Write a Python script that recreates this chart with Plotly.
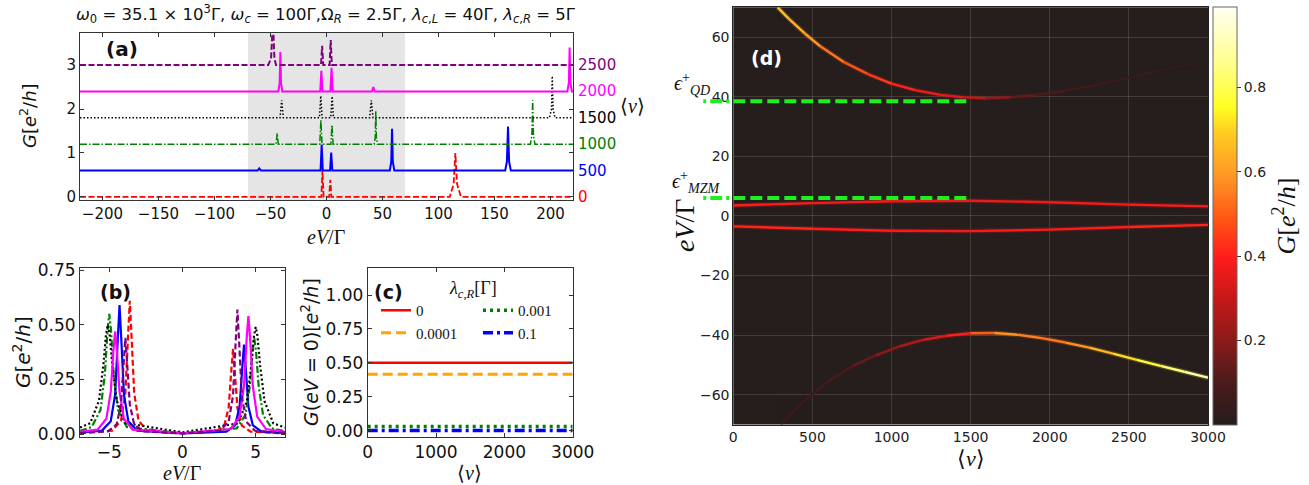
import plotly.graph_objects as go
from plotly.colors import sample_colorscale

W, H = 1309, 485

# ---------------- panel (a): G(eV) for several <nu>, stacked ----------------
A_NU = [0, 500, 1000, 1500, 2000, 2500]
A_OFFSET = [0.0, 0.6, 1.2, 1.8, 2.4, 3.0]
A_SHADE = [-70, 70]

A_X0 = [-220, -4.6, -3.6, -2.6, 2.4, 3.4, 4.4, 110, 113.5, 115, 116.5, 120, 220]
A_Y0 = [0, 0, 0.61, 0, 0, 0.39, 0, 0, 0.3, 1.0, 0.3, 0, 0]
A_X500 = [-220, -61.5, -60, -58.5, -5.3, -4.3, -3.3, 3.2, 4.2, 5.2, 56.5, 57.8, 58.5, 59.2, 60.5,
          159.5, 161, 162, 163, 164.5, 220]
A_Y500 = [0, 0, 0.05, 0, 0, 0.59, 0, 0, 0.41, 0, 0, 0.2, 0.95, 0.2, 0, 0, 0.2, 1.0, 0.2, 0, 0]
A_X1000 = [-220, -45, -44, -43, -6, -5, -4, 3.9, 4.9, 5.9, 42.5, 43.5, 44, 44.5, 45.5,
           182, 183.3, 184, 184.7, 186, 220]
A_Y1000 = [0, 0, 0.25, 0, 0, 0.55, 0, 0, 0.44, 0, 0, 0.15, 0.75, 0.15, 0, 0, 0.2, 1.0, 0.2, 0, 0]
A_X1500 = [-220, -41.5, -40, -38.5, -6.3, -5.1, -3.9, 3.8, 5.0, 6.2, 38.5, 40, 41.5,
           199, 200.8, 201.5, 202.2, 204, 220]
A_Y1500 = [0, 0, 0.4, 0, 0, 0.5, 0, 0, 0.49, 0, 0, 0.4, 0, 0, 0.2, 0.95, 0.2, 0, 0]
A_X2000 = [-220, -43, -41.8, -41.2, -40.6, -39.5, -5.6, -4.6, -3.6, 3.5, 4.5, 5.5, 40.5, 41.8, 43,
           215, 216.3, 217, 217.7, 219, 220]
A_Y2000 = [0, 0, 0.2, 0.9, 0.2, 0, 0, 0.47, 0, 0, 0.54, 0, 0, 0.1, 0, 0, 0.2, 1.0, 0.2, 0, 0]
A_X2500 = [-220, -52, -49.5, -47.8, -46.5, -45, -4.9, -3.9, -2.9, 2.75, 3.75, 4.75, 220]
A_Y2500 = [0, 0, 0.15, 1.0, 0.15, 0, 0, 0.44, 0, 0, 0.57, 0, 0]

A_XS = [A_X0, A_X500, A_X1000, A_X1500, A_X2000, A_X2500]
A_YS = [A_Y0, A_Y500, A_Y1000, A_Y1500, A_Y2000, A_Y2500]

COLORS = ["#ff0000", "#0000ff", "#008000", "#000000", "#ff00ff", "#800080"]
DASHES = ["6px,2.5px", "solid", "7px,2px,1.5px,2px", "1.5px,2px", "solid", "6px,2.5px"]
WIDTHS_A = [1.8, 2.0, 1.5, 1.5, 2.0, 2.0]

# ---------------- panel (b): zoom near eV = 0 ----------------
B_X0 = [-7, -4.8, -4.2, -3.9, -3.72, -3.6, -3.48, -3.3, -3.0, -2.4, 0,
        2.25, 2.85, 3.15, 3.33, 3.45, 3.57, 3.75, 4.05, 4.65, 7]
B_Y0 = [0.004, 0.016, 0.061, 0.188, 0.448, 0.61, 0.448, 0.188, 0.061, 0.016, 0.003,
        0.011, 0.039, 0.12, 0.287, 0.39, 0.287, 0.12, 0.039, 0.011, 0.003]
B_X500 = [-7, -5.5, -4.9, -4.6, -4.42, -4.3, -4.18, -4.0, -3.7, -3.1, 0,
          3.0, 3.6, 3.9, 4.08, 4.2, 4.32, 4.5, 4.8, 5.4, 7]
B_Y500 = [0.006, 0.016, 0.059, 0.182, 0.434, 0.59, 0.434, 0.182, 0.059, 0.016, 0.003,
          0.011, 0.041, 0.126, 0.301, 0.41, 0.301, 0.126, 0.041, 0.011, 0.005]
B_X1000 = [-7, -6.2, -5.6, -5.3, -5.12, -5.0, -4.88, -4.7, -4.4, -3.8, 0,
           3.7, 4.3, 4.6, 4.78, 4.9, 5.02, 5.2, 5.5, 6.1, 7]
B_Y1000 = [0.015, 0.032, 0.11, 0.275, 0.474, 0.55, 0.474, 0.275, 0.11, 0.032, 0.004,
           0.026, 0.088, 0.22, 0.379, 0.44, 0.379, 0.22, 0.088, 0.026, 0.013]
B_X1500 = [-7, -6.3, -5.7, -5.4, -5.22, -5.1, -4.98, -4.8, -4.5, -3.9, 0,
           3.8, 4.4, 4.7, 4.88, 5.0, 5.12, 5.3, 5.6, 6.2, 7]
B_Y1500 = [0.03, 0.05, 0.154, 0.32, 0.459, 0.5, 0.459, 0.32, 0.154, 0.05, 0.008,
           0.049, 0.151, 0.314, 0.449, 0.49, 0.449, 0.314, 0.151, 0.049, 0.03]
B_X2000 = [-7, -5.8, -5.2, -4.9, -4.72, -4.6, -4.48, -4.3, -4.0, -3.4, 0,
           3.3, 3.9, 4.2, 4.38, 4.5, 4.62, 4.8, 5.1, 5.7, 7]
B_Y2000 = [0.01, 0.02, 0.07, 0.193, 0.381, 0.47, 0.381, 0.193, 0.07, 0.02, 0.005,
           0.023, 0.08, 0.221, 0.437, 0.54, 0.437, 0.221, 0.08, 0.023, 0.01]
B_X2500 = [-7, -5.1, -4.5, -4.2, -4.02, -3.9, -3.78, -3.6, -3.3, -2.7, 0,
           2.55, 3.15, 3.45, 3.63, 3.75, 3.87, 4.05, 4.35, 4.95, 7]
B_Y2500 = [0.005, 0.012, 0.044, 0.136, 0.323, 0.44, 0.323, 0.136, 0.044, 0.012, 0.003,
           0.015, 0.057, 0.176, 0.419, 0.57, 0.419, 0.176, 0.057, 0.015, 0.005]

B_XS = [B_X0, B_X500, B_X1000, B_X1500, B_X2000, B_X2500]
B_YS = [B_Y0, B_Y500, B_Y1000, B_Y1500, B_Y2000, B_Y2500]
B_DASHES = ["6px,3px", "solid", "7px,2.5px,2px,2.5px", "2px,2.5px", "solid", "6px,3px"]

# ---------------- panel (c): G(eV=0) vs <nu> ----------------
C_NU = [0, 500, 1000, 1500, 2000, 2500, 3000]
C_LAMBDA = ["0", "0.0001", "0.001", "0.1"]
C_G0 = [0.5, 0.5, 0.5, 0.5, 0.5, 0.5, 0.5]
C_G1 = [0.415, 0.415, 0.415, 0.415, 0.415, 0.415, 0.415]
C_G2 = [0.03, 0.03, 0.03, 0.03, 0.03, 0.03, 0.03]
C_G3 = [0.0, 0.0, 0.0, 0.0, 0.0, 0.0, 0.0]
C_GS = [C_G0, C_G1, C_G2, C_G3]
C_COLORS = ["#ff0000", "#ffa500", "#008000", "#0000ff"]
C_DASHES = ["solid", "10px,5px", "3px,4px", "10px,4px,3px,4px"]
C_WIDTHS = [2.5, 3.0, 3.5, 3.5]

# ---------------- panel (d): map of G(<nu>, eV) ----------------
D_NU_RANGE = [0, 3000]
D_EV_RANGE = [-70, 70]

D_UP_NU = [280, 350, 450, 550, 700, 850, 1000, 1150, 1300, 1450, 1600, 1750, 1900,
           2100, 2300, 2500, 2700, 2900]
D_UP_EV = [70, 66.2, 61.3, 56.9, 51.6, 47.6, 44.4, 42.2, 40.7, 39.8, 39.5, 39.8, 40.5,
           42.0, 44.0, 46.4, 48.8, 51.0]
D_UP_G = [0.68, 0.66, 0.62, 0.57, 0.5, 0.46, 0.42, 0.39, 0.36, 0.32, 0.25, 0.16, 0.11,
          0.08, 0.06, 0.05, 0.04, 0.03]

D_LO_NU = [300, 450, 600, 750, 900, 1050, 1200, 1350, 1500, 1650, 1800, 1950, 2100,
           2250, 2400, 2550, 2700, 2850, 3000]
D_LO_EV = [-70, -62, -55.5, -50.5, -46.8, -43.8, -41.6, -40.2, -39.4, -39.3, -39.9, -41.0,
           -42.5, -44.2, -46.2, -48.3, -50.3, -52.3, -54.3]
D_LO_G = [0.05, 0.06, 0.08, 0.11, 0.16, 0.23, 0.3, 0.36, 0.42, 0.58, 0.58, 0.52, 0.55,
          0.62, 0.68, 0.74, 0.8, 0.85, 0.9]

D_MZ_NU = [0, 500, 1000, 1500, 2000, 2500, 3000]
D_MZ_UP_EV = [3.5, 4.3, 4.9, 5.1, 4.6, 3.8, 3.2]
D_MZ_UP_G = [0.4, 0.38, 0.36, 0.36, 0.36, 0.38, 0.4]
D_MZ_LO_EV = [-3.5, -4.3, -5.0, -5.1, -4.6, -3.7, -3.0]
D_MZ_LO_G = [0.42, 0.4, 0.38, 0.38, 0.38, 0.4, 0.42]

D_EPS_NU = [0, 1500]
D_EPS_START = -190
D_EPS_QD = 38.5
D_EPS_MZM = 6.0

G_MAX = 0.99
HOT = [
    [0.0, "#241c1c"], [0.1, "#4a1b1b"], [0.2, "#8a1a1a"], [0.3, "#c41818"],
    [0.4, "#ff1c1c"], [0.5, "#ff5a16"], [0.6, "#ff9a24"], [0.7, "#ffcc22"],
    [0.76, "#ffff22"], [0.86, "#ffff88"], [1.0, "#fffff2"],
]

SANS = "DejaVu Sans"
SERIF = "Liberation Serif"
GREEN = "#1ef01e"

fig = go.Figure()

# panel (a)
for nu, off, xs, ys, col, dash, lw in zip(A_NU, A_OFFSET, A_XS, A_YS, COLORS, DASHES, WIDTHS_A):
    fig.add_trace(go.Scatter(x=xs, y=[v + off for v in ys], mode="lines",
                             line=dict(color=col, dash=dash, width=lw),
                             xaxis="x", yaxis="y", showlegend=False))

# panel (b)
for xs, ys, col, dash in zip(B_XS, B_YS, COLORS, B_DASHES):
    fig.add_trace(go.Scatter(x=xs, y=ys, mode="lines",
                             line=dict(color=col, dash=dash, width=2.2),
                             xaxis="x2", yaxis="y2", showlegend=False))

# panel (c) - two legend columns
for i, (lab, gs, col, dash, lw) in enumerate(zip(C_LAMBDA, C_GS, C_COLORS, C_DASHES, C_WIDTHS)):
    fig.add_trace(go.Scatter(x=C_NU, y=gs, mode="lines", name=lab,
                             line=dict(color=col, dash=dash, width=lw),
                             xaxis="x3", yaxis="y3",
                             legend="legend" if i < 2 else "legend2"))

# panel (d) - branches coloured by conductance
def add_branch(nu, ev, g):
    for i in range(len(nu) - 1):
        gm = (g[i] + g[i + 1]) / 2
        col = sample_colorscale(HOT, [min(gm / G_MAX, 1.0)])[0]
        fig.add_trace(go.Scatter(x=nu[i:i + 2], y=ev[i:i + 2], mode="lines",
                                 line=dict(color=col, width=5), opacity=0.18,
                                 xaxis="x4", yaxis="y4", showlegend=False, hoverinfo="skip"))
        fig.add_trace(go.Scatter(x=nu[i:i + 2], y=ev[i:i + 2], mode="lines",
                                 line=dict(color=col, width=2.4),
                                 xaxis="x4", yaxis="y4", showlegend=False, hoverinfo="skip"))


add_branch(D_UP_NU, D_UP_EV, D_UP_G)
add_branch(D_LO_NU, D_LO_EV, D_LO_G)
add_branch(D_MZ_NU, D_MZ_UP_EV, D_MZ_UP_G)
add_branch(D_MZ_NU, D_MZ_LO_EV, D_MZ_LO_G)

for lvl in [D_EPS_QD, D_EPS_MZM]:
    fig.add_trace(go.Scatter(x=D_EPS_NU, y=[lvl, lvl], mode="lines",
                             line=dict(color=GREEN, width=4, dash="12px,5px"),
                             xaxis="x4", yaxis="y4", showlegend=False))

# colorbar
fig.add_trace(go.Scatter(x=[None], y=[None], mode="markers", showlegend=False,
                         xaxis="x4", yaxis="y4",
                         marker=dict(color=[0.5], colorscale=HOT, cmin=0, cmax=G_MAX,
                                     showscale=True,
                                     colorbar=dict(x=1212.7 / W, xanchor="left", thickness=24,
                                                   len=417.7 / H, y=1 - 216 / H, yanchor="middle",
                                                   xpad=0, ypad=0,
                                                   outlinecolor="#666", outlinewidth=1,
                                                   tickvals=[0.2, 0.4, 0.6, 0.8], ticks="outside",
                                                   ticklen=4, tickcolor="#333",
                                                   tickfont=dict(family=SANS, size=14, color="#222"),
                                                   title=dict(text="<i>G</i>[<i>e</i><sup>2</sup>/<i>h</i>]",
                                                              side="right",
                                                              font=dict(family=SERIF, size=26, color="#111"))))))

axis_common = dict(showline=True, linecolor="#333", linewidth=1, mirror="ticks", automargin=False,
                   ticks="inside", ticklen=4, tickcolor="#333", showgrid=False, zeroline=False,
                   tickfont=dict(family=SANS, size=15, color="#111"))
big_tick = dict(family=SANS, size=17, color="#111")
d_axis = dict(showline=True, linecolor="#222", mirror=True, ticks="", zeroline=False, automargin=False,
              showgrid=True, gridcolor="rgba(120,120,100,0.35)",
              tickfont=dict(family=SANS, size=14, color="#222"))

fig.update_layout(
    width=W, height=H, margin=dict(l=0, r=0, t=0, b=0, autoexpand=False),
    paper_bgcolor="white", plot_bgcolor="rgba(0,0,0,0)",
    xaxis=dict(axis_common, domain=[80 / W, 573 / W], anchor="y", range=[-220, 220],
               tickvals=[-200, -150, -100, -50, 0, 50, 100, 150, 200]),
    yaxis=dict(axis_common, domain=[1 - 200 / H, 1 - 33 / H], anchor="x", range=[-0.07, 3.73],
               tickvals=[0, 1, 2, 3]),
    xaxis2=dict(axis_common, domain=[80 / W, 285 / W], anchor="y2", range=[-7, 7],
                tickvals=[-5, 0, 5], tickfont=big_tick),
    yaxis2=dict(axis_common, domain=[1 - 436.7 / H, 1 - 268 / H], anchor="x2", range=[-0.012, 0.76],
                tickvals=[0, 0.25, 0.5, 0.75], tickformat=".2f", tickfont=big_tick),
    xaxis3=dict(axis_common, domain=[367.7 / W, 572.7 / W], anchor="y3", range=[0, 3000],
                tickvals=[0, 1000, 2000, 3000], tickfont=big_tick),
    yaxis3=dict(axis_common, domain=[1 - 436.7 / H, 1 - 268 / H], anchor="x3", range=[-0.045, 1.2],
                tickvals=[0, 0.25, 0.5, 0.75, 1.0], tickformat=".2f", tickfont=big_tick),
    xaxis4=dict(d_axis, domain=[733.3 / W, 1208 / W], anchor="y4", range=D_NU_RANGE, dtick=500),
    yaxis4=dict(d_axis, domain=[1 - 424.5 / H, 1 - 7.3 / H], anchor="x4", range=D_EV_RANGE, dtick=20),
    legend=dict(x=376 / W, y=1 - 294 / H, xanchor="left", yanchor="top", bgcolor="rgba(0,0,0,0)",
                font=dict(family=SERIF, size=15, color="#111"), tracegroupgap=0, itemwidth=30),
    legend2=dict(x=478 / W, y=1 - 294 / H, xanchor="left", yanchor="top", bgcolor="rgba(0,0,0,0)",
                 font=dict(family=SERIF, size=15, color="#111"), tracegroupgap=0, itemwidth=30),
)

shapes = [
    dict(type="rect", xref="x", yref="y domain", x0=A_SHADE[0], x1=A_SHADE[1], y0=0, y1=1,
         fillcolor="#e5e5e5", line=dict(width=0), layer="below"),
    dict(type="rect", xref="x4 domain", yref="y4 domain", x0=0, x1=1, y0=0, y1=1,
         fillcolor="#261d1d", line=dict(width=0), layer="below"),
]
# green level lines stick out to the left of panel (d)
span_nu = D_NU_RANGE[1] - D_NU_RANGE[0]
span_ev = D_EV_RANGE[1] - D_EV_RANGE[0]
for lvl in [D_EPS_QD, D_EPS_MZM]:
    yf = (lvl - D_EV_RANGE[0]) / span_ev
    shapes.append(dict(type="line", xref="x4 domain", yref="y4 domain",
                       x0=(D_EPS_START - D_NU_RANGE[0]) / span_nu, x1=0, y0=yf, y1=yf,
                       line=dict(color=GREEN, width=4, dash="3px,4px,12px,4px"), layer="above"))
fig.update_layout(shapes=shapes)

def note(text, x, y, size, family=SANS, color="#111", angle=0, **kw):
    fig.add_annotation(text=text, x=x / W, y=1 - y / H, xref="paper", yref="paper",
                       showarrow=False, textangle=angle, font=dict(family=family, size=size, color=color),
                       xanchor="center", yanchor="middle", **kw)

# titles and labels
note("<i>ω</i><sub>0</sub> = 35.1 × 10<sup>3</sup>Γ, <i>ω</i><sub><i>c</i></sub> = 100Γ,Ω<sub><i>R</i></sub> = 2.5Γ, "
     "<i>λ</i><sub><i>c</i>,<i>L</i></sub> = 40Γ, <i>λ</i><sub><i>c</i>,<i>R</i></sub> = 5Γ", 326, 14, 16.5)
note("<i>eV</i>/Γ", 326, 237, 20, SERIF)
note("<i>G</i>[<i>e</i><sup>2</sup>/<i>h</i>]", 28, 116, 18, angle=-90)
note("⟨<i>ν</i>⟩", 632, 106, 20, SERIF)
note("<b>(a)</b>", 122, 49, 20)
for nu, off, col in zip(A_NU, A_OFFSET, COLORS):
    fig.add_annotation(text=str(nu), x=1, y=off, xref="x domain", yref="y", xanchor="left",
                       yanchor="middle", xshift=3, showarrow=False,
                       font=dict(family=SANS, size=15, color=col))

note("<i>eV</i>/Γ", 182, 473, 20, SERIF)
note("<i>G</i>[<i>e</i><sup>2</sup>/<i>h</i>]", 22, 352, 20, angle=-90)
note("<b>(b)</b>", 115, 292, 19)

note("⟨<i>ν</i>⟩", 470, 473, 20, SERIF)
note("<i>G</i>(<i>eV</i> = 0)[<i>e</i><sup>2</sup>/<i>h</i>]", 310, 352, 19, angle=-90)
note("<b>(c)</b>", 388, 292, 19)
note("<i>λ</i><sub><i>c</i>,<i>R</i></sub>[Γ]", 473, 289, 18, SERIF)

note("<i>eV</i>/Γ", 684, 225, 28, SERIF, angle=-90)
note("⟨<i>ν</i>⟩", 971, 458, 22, SERIF)
note("<b>(d)</b>", 766, 58, 19, color="white")
note("<i>ϵ</i><sup>+</sup><sub><i>QD</i></sub>", 692, 84, 20, SERIF)
note("<i>ϵ</i><sup>+</sup><sub><i>MZM</i></sub>", 696, 182, 20, SERIF)

# the page is exactly the figure: no body margin, no scrollbars
page_fix = "document.body.style.margin='0';document.documentElement.style.overflow='hidden';"
fig.write_html("out.html", post_script=page_fix, config={"displayModeBar": False})
